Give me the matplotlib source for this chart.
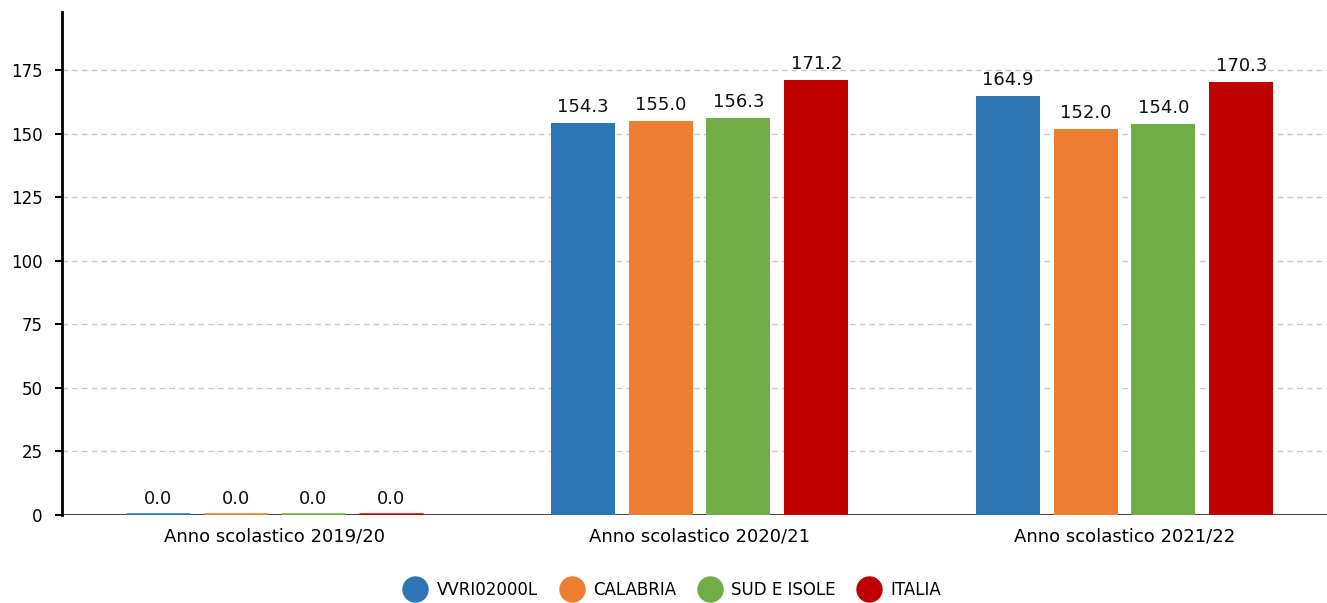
import matplotlib.pyplot as plt
import numpy as np
from matplotlib.lines import Line2D

# Data
categories = ["Anno scolastico 2019/20", "Anno scolastico 2020/21", "Anno scolastico 2021/22"]
series_names = ["VVRI02000L", "CALABRIA", "SUD E ISOLE", "ITALIA"]
vvri = [0.0, 154.3, 164.9]
calabria = [0.0, 155.0, 152.0]
sud_isole = [0.0, 156.3, 154.0]
italia = [0.0, 171.2, 170.3]
colors = ["#2e75b6", "#ed7d31", "#70ad47", "#c00000"]


def main():
    values = [vvri, calabria, sud_isole, italia]
    x = np.arange(len(categories))
    step = 0.1835
    width = 0.1506

    fig = plt.figure(figsize=(13.27, 6.03), dpi=100)
    ax = fig.add_axes([62 / 1327, 1 - 515 / 603, 1275 / 1327, 503 / 603])

    for i, (vals, col) in enumerate(zip(values, colors)):
        pos = x + (i - 1.5) * step
        ax.bar(pos, vals, width=width, color=col, zorder=3)
        for p, v in zip(pos, vals):
            if v == 0:
                # zero values shown as a thin coloured line on the baseline
                ax.plot([p - width / 2, p + width / 2], [0.4, 0.4], color=col,
                        lw=1.8, zorder=5, solid_capstyle="butt")
            ax.annotate(f"{v:.1f}", (p, v), xytext=(0, 5), textcoords="offset points",
                        ha="center", va="bottom", fontsize=13, color="#111111")

    ax.set_xlim(-0.5, 2.5)
    ax.set_ylim(0, 198)
    ax.set_yticks(np.arange(0, 176, 25))
    ax.set_xticks(x)
    ax.set_xticklabels(categories, fontsize=13)
    ax.tick_params(axis="y", labelsize=12, length=5, width=1.5, pad=9)
    ax.tick_params(axis="x", length=0, pad=9)

    ax.grid(axis="y", linestyle=(0, (4, 3)), color="#c8c8c8", lw=1, zorder=4)
    ax.axhline(0, color="#444444", lw=2.2, zorder=2)
    for s in ["top", "right", "bottom"]:
        ax.spines[s].set_visible(False)
    ax.spines["left"].set_linewidth(2)
    ax.spines["left"].set_zorder(6)

    handles = [Line2D([], [], marker="o", linestyle="none", markersize=18,
                      markerfacecolor=c, markeredgecolor=c) for c in colors]
    fig.legend(handles, series_names, loc="center", bbox_to_anchor=(0.505, 1 - 590 / 603),
               ncol=4, frameon=False, fontsize=12, handletextpad=0.3, columnspacing=1.0)

    fig.savefig("out.png", dpi=100)


main()
